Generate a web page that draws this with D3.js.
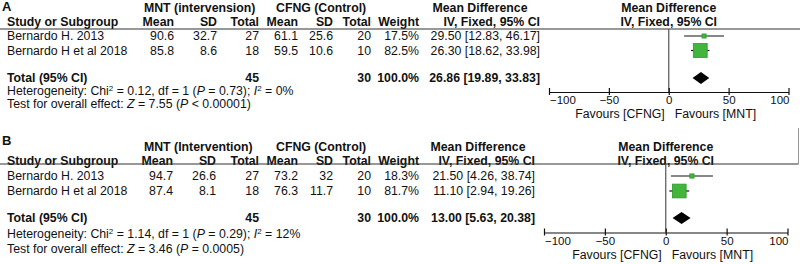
<!DOCTYPE html>
<html>
<head>
<meta charset="utf-8">
<script src="https://cdn.jsdelivr.net/npm/d3@7"></script>
<style>
  body { margin: 0; background: #fff; }
  svg text { font-family: "Liberation Sans", Arial, sans-serif; font-size: 12.3px; fill: #111; }
  .b { font-weight: bold; }
</style>
</head>
<body>
<div id="chart"></div>
<script>

// data
var panels = ["A", "B"];
var groupHeads = [["MNT (intervension)", "CFNG (Control)"], ["MNT (Intervention)", "CFNG (Control)"]];
var studies = ["Bernardo H. 2013", "Bernardo H et al 2018"];
var mntMean = [[90.6, 85.8], [94.7, 87.4]];
var mntSD = [[32.7, 8.6], [26.6, 8.1]];
var mntTotal = [[27, 18], [27, 18]];
var cfngMean = [[61.1, 59.5], [73.2, 76.3]];
var cfngSD = [[25.6, 10.6], [32, 11.7]];
var cfngTotal = [[20, 10], [20, 10]];
var weight = [[17.5, 82.5], [18.3, 81.7]];
var md = [[29.50, 26.30], [21.50, 11.10]];
var ciLow = [[12.83, 18.62], [4.26, 2.94]];
var ciHigh = [[46.17, 33.98], [38.74, 19.26]];
var pooled = [[26.86, 19.89, 33.83], [13.00, 5.63, 20.38]];
var pooledTotal = [[45, 30], [45, 30]];
var chi2 = [["0.12", "1", "= 0.73", "0%"], ["1.14", "1", "= 0.29", "12%"]];
var overall = [["7.55", "< 0.00001"], ["3.46", "= 0.0005"]];
var xTicks = [-100, -50, 0, 50, 100];

// layout for each panel (y = text centre lines)
var layout = [
  {letter: 5, h1: 7.5, h2: 21.5, rule: 29, rows: [36, 50.5], total: 78, het: 90.5, test: 103.5,
   axis: 92, xr: [549, 788.5], meanEnd: 174, sdEnd: 217, ciEnd: 540, mdHead: 480},
  {letter: 139, h1: 146.5, h2: 161, rule: 164, rows: [176, 191], total: 218, het: 233.5, test: 248.5,
   axis: 232.5, xr: [544, 787.5], meanEnd: 173, sdEnd: 216, ciEnd: 535, mdHead: 478}
];

var W = 800, H = 264;
var svg = d3.select("#chart").append("svg")
  .attr("width", W).attr("height", H);

var green = "#42b53c", greenEdge = "#2c9a2c";
var size = d3.scaleLinear().domain([0, 100]).range([1.5, 16.5]);

function txt(g, x, y, s, anchor, cls) {
  return g.append("text")
    .attr("x", x).attr("y", y + 4.4)
    .attr("text-anchor", anchor || "start")
    .attr("class", cls || null)
    .text(s);
}

panels.forEach(function(p, i) {
  var L = layout[i];
  var g = svg.append("g");
  var x = d3.scaleLinear().domain([-100, 100]).range(L.xr);
  var x0 = x(0);

  g.append("text").attr("x", 2).attr("y", L.letter + 6)
    .attr("class", "b").style("font-size", "13px").text(p);

  // header rows
  txt(g, 144, L.h1, groupHeads[i][0], "start", "b");
  txt(g, 276, L.h1, groupHeads[i][1], "start", "b");
  txt(g, L.mdHead, L.h1, "Mean Difference", "middle", "b");
  txt(g, x0, L.h1, "Mean Difference", "middle", "b");

  txt(g, 7, L.h2, "Study or Subgroup", "start", "b");
  txt(g, L.meanEnd, L.h2, "Mean", "end", "b");
  txt(g, L.sdEnd, L.h2, "SD", "end", "b");
  txt(g, 259, L.h2, "Total", "end", "b");
  txt(g, 298, L.h2, "Mean", "end", "b");
  txt(g, 333, L.h2, "SD", "end", "b");
  txt(g, 371, L.h2, "Total", "end", "b");
  txt(g, 419, L.h2, "Weight", "end", "b");
  txt(g, L.ciEnd, L.h2, "IV, Fixed, 95% CI", "end", "b");
  txt(g, x0, L.h2, "IV, Fixed, 95% CI", "middle", "b");

  g.append("line")
    .attr("x1", 0).attr("x2", i === 0 ? W : 798.5)
    .attr("y1", L.rule).attr("y2", L.rule)
    .attr("stroke", "#333").attr("stroke-width", 1.2);

  // study rows
  studies.forEach(function(s, j) {
    var y = L.rows[j];
    txt(g, 7, y, s);
    txt(g, L.meanEnd, y, mntMean[i][j].toFixed(1), "end");
    txt(g, L.sdEnd, y, String(mntSD[i][j]), "end");
    txt(g, 259, y, mntTotal[i][j], "end");
    txt(g, 298, y, cfngMean[i][j].toFixed(1), "end");
    txt(g, 333, y, String(cfngSD[i][j]), "end");
    txt(g, 371, y, cfngTotal[i][j], "end");
    txt(g, 419, y, weight[i][j].toFixed(1) + "%", "end");
    txt(g, L.ciEnd, y, md[i][j].toFixed(2) + " [" + ciLow[i][j].toFixed(2) + ", " + ciHigh[i][j].toFixed(2) + "]", "end");
  });

  // total row
  txt(g, 7, L.total, "Total (95% CI)", "start", "b");
  txt(g, 259, L.total, pooledTotal[i][0], "end", "b");
  txt(g, 371, L.total, pooledTotal[i][1], "end", "b");
  txt(g, 419, L.total, "100.0%", "end", "b");
  txt(g, L.ciEnd, L.total, pooled[i][0].toFixed(2) + " [" + pooled[i][1].toFixed(2) + ", " + pooled[i][2].toFixed(2) + "]", "end", "b");

  var het = g.append("text").attr("x", 7).attr("y", L.het + 4.4);
  het.append("tspan").text("Heterogeneity: Chi");
  het.append("tspan").text("2").attr("dy", -4).style("font-size", "8px");
  het.append("tspan").text(" = " + chi2[i][0] + ", df = " + chi2[i][1] + " (").attr("dy", 4);
  het.append("tspan").text("P").style("font-style", "italic");
  het.append("tspan").text(" " + chi2[i][2] + "); ");
  het.append("tspan").text("I").style("font-style", "italic");
  het.append("tspan").text("2").attr("dy", -4).style("font-size", "8px");
  het.append("tspan").text(" = " + chi2[i][3]).attr("dy", 4);

  var te = g.append("text").attr("x", 7).attr("y", L.test + 4.4);
  te.append("tspan").text("Test for overall effect: ");
  te.append("tspan").text("Z").style("font-style", "italic");
  te.append("tspan").text(" = " + overall[i][0] + " (");
  te.append("tspan").text("P").style("font-style", "italic");
  te.append("tspan").text(" " + overall[i][1] + ")");

  // forest plot
  g.append("line")
    .attr("x1", x0).attr("x2", x0)
    .attr("y1", L.rule).attr("y2", L.axis)
    .attr("stroke", "#555").attr("stroke-width", 1.2);

  var rows = studies.map(function(s, j) { return j; });
  g.selectAll(".ci").data(rows).join("line")
    .attr("x1", function(j) { return x(ciLow[i][j]); })
    .attr("x2", function(j) { return x(ciHigh[i][j]); })
    .attr("y1", function(j) { return L.rows[j]; })
    .attr("y2", function(j) { return L.rows[j]; })
    .attr("stroke", "#111").attr("stroke-width", 1.2);

  g.selectAll(".sq").data(rows).join("rect")
    .attr("x", function(j) { return x(md[i][j]) - size(weight[i][j]) / 2; })
    .attr("y", function(j) { return L.rows[j] - size(weight[i][j]) / 2; })
    .attr("width", function(j) { return size(weight[i][j]); })
    .attr("height", function(j) { return size(weight[i][j]); })
    .attr("fill", green).attr("stroke", greenEdge).attr("stroke-width", 0.8);

  var dh = 6;
  g.append("path")
    .attr("d", "M" + x(pooled[i][1]) + "," + L.total +
               "L" + x(pooled[i][0]) + "," + (L.total - dh) +
               "L" + x(pooled[i][2]) + "," + L.total +
               "L" + x(pooled[i][0]) + "," + (L.total + dh) + "Z")
    .attr("fill", "#000");

  var ax = g.append("g")
    .attr("transform", "translate(0," + L.axis + ")")
    .call(d3.axisBottom(x).tickValues(xTicks).tickSize(3).tickSizeOuter(0).tickPadding(1));
  ax.select(".domain").attr("stroke", "#111").attr("stroke-width", 1.2);
  ax.selectAll(".tick line").attr("y1", -4).attr("stroke", "#111").attr("stroke-width", 1.2);
  ax.selectAll(".tick text")
    .style("font-family", "'Liberation Sans', Arial, sans-serif")
    .style("font-size", "11.5px").attr("fill", "#111")
    .attr("text-anchor", function(d, k) { return k === 0 ? "start" : (k === xTicks.length - 1 ? "end" : "middle"); })
    .attr("x", function(d, k) { return k === 0 ? 0.5 : (k === xTicks.length - 1 ? 0.5 : 0); });

  txt(g, x0 - 4, L.axis + 21.8, "Favours [CFNG]", "end");
  txt(g, x0 + 6, L.axis + 21.8, "Favours [MNT]", "start");
});

// thin frame edge at the right of panel B
svg.append("line")
  .attr("x1", 798.5).attr("x2", 798.5)
  .attr("y1", 128).attr("y2", 164)
  .attr("stroke", "#999").attr("stroke-width", 1);

</script>
</body>
</html>
